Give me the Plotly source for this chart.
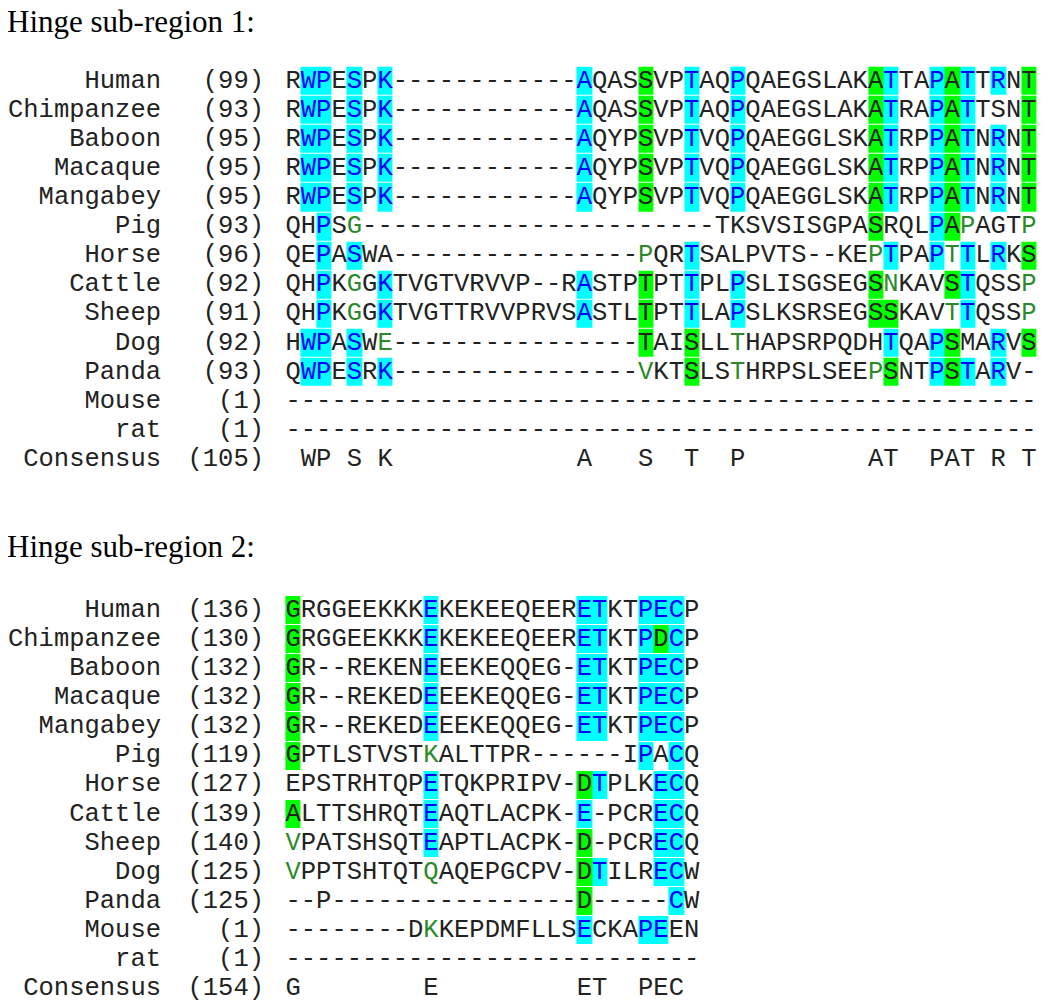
import plotly.graph_objects as go

# ---------------- data ----------------
species = ["Human", "Chimpanzee", "Baboon", "Macaque", "Mangabey", "Pig", "Horse",
           "Cattle", "Sheep", "Dog", "Panda", "Mouse", "rat"]

# Hinge sub-region 1
r1_title = "Hinge sub-region 1:"
r1_start = [99, 93, 95, 95, 95, 93, 96, 92, 91, 92, 93, 1, 1]
r1_cons_start = 105
r1_seq = [
    "RWPESPK" + "-" * 12 + "AQASSVPTAQPQAEGSLAKATTAPATTRNT",
    "RWPESPK" + "-" * 12 + "AQASSVPTAQPQAEGSLAKATRAPATTSNT",
    "RWPESPK" + "-" * 12 + "AQYPSVPTVQPQAEGGLSKATRPPATNRNT",
    "RWPESPK" + "-" * 12 + "AQYPSVPTVQPQAEGGLSKATRPPATNRNT",
    "RWPESPK" + "-" * 12 + "AQYPSVPTVQPQAEGGLSKATRPPATNRNT",
    "QHPSG" + "-" * 23 + "TKSVSISGPASRQLPAPAGTP",
    "QEPASWA" + "-" * 16 + "PQRTSALPVTS--KEPTPAPTTLRKS",
    "QHPKGGKTVGTVRVVP--RASTPTPTTPLPSLISGSEGSNKAVSTQSSP",
    "QHPKGGKTVGTTRVVPRVSASTLTPTTLAPSLKSRSEGSSKAVTTQSSP",
    "HWPASWE" + "-" * 16 + "TAISLLTHAPSRPQDHTQAPSMARVS",
    "QWPESRK" + "-" * 16 + "VKTSLSTHRPSLSEEPSNTPSTARV-",
    "-" * 49,
    "-" * 49,
]
r1_cons = " WP S K            A   S  T  P        AT  PAT R T"
# column indices: identical (cyan), conserved (green box), similar (green letter)
r1_cyan = [
    [1, 2, 4, 6, 19, 26, 29, 39, 42, 44, 46],
    [1, 2, 4, 6, 19, 26, 29, 39, 42, 44],
    [1, 2, 4, 6, 19, 26, 29, 39, 42, 44, 46],
    [1, 2, 4, 6, 19, 26, 29, 39, 42, 44, 46],
    [1, 2, 4, 6, 19, 26, 29, 39, 42, 44, 46],
    [2, 42],
    [2, 4, 26, 39, 42, 44, 46],
    [2, 6, 19, 26, 29, 44],
    [2, 6, 19, 26, 29, 44],
    [1, 2, 4, 39, 42, 46],
    [1, 2, 4, 6, 42, 44, 46],
    [], [],
]
r1_green = [
    [23, 38, 43, 48], [23, 38, 43, 48], [23, 38, 43, 48], [23, 38, 43, 48],
    [23, 38, 43, 48], [38, 43], [48], [23, 38, 43], [23, 38, 39],
    [23, 26, 43, 48], [26, 39, 43], [], [],
]
r1_weak = [
    [], [], [], [], [], [4, 44, 48], [23, 38, 43], [4, 39, 48], [4, 43, 48],
    [6, 29], [23, 29, 38], [], [],
]

# Hinge sub-region 2
r2_title = "Hinge sub-region 2:"
r2_start = [136, 130, 132, 132, 132, 119, 127, 139, 140, 125, 125, 1, 1]
r2_cons_start = 154
r2_seq = [
    "GRGGEEKKKEKEKEEQEERETKTPECP",
    "GRGGEEKKKEKEKEEQEERETKTPDCP",
    "GR--REKENEEEKEQQEG-ETKTPECP",
    "GR--REKEDEEEKEQQEG-ETKTPECP",
    "GR--REKEDEEEKEQQEG-ETKTPECP",
    "GPTLSTVSTKALTTPR------IPACQ",
    "EPSTRHTQPETQKPRIPV-DTPLKECQ",
    "ALTTSHRQTEAQTLACPK-E-PCRECQ",
    "VPATSHSQTEAPTLACPK-D-PCRECQ",
    "VPPTSHTQTQAQEPGCPV-DTILRECW",
    "--P" + "-" * 16 + "D" + "-" * 5 + "CW",
    "--------DKKEPDMFLLSECKAPEEN",
    "-" * 27,
]
r2_cons = "G        E         ET  PEC "
r2_cyan = [
    [9, 19, 20, 23, 24, 25], [9, 19, 20, 23, 25], [9, 19, 20, 23, 24, 25],
    [9, 19, 20, 23, 24, 25], [9, 19, 20, 23, 24, 25], [23, 25], [9, 20, 24, 25],
    [9, 19, 24, 25], [9, 24, 25], [20, 24, 25], [25], [19, 23, 24], [],
]
r2_green = [
    [0], [0, 24], [0], [0], [0], [0], [19], [0], [19], [19], [19], [], [],
]
r2_weak = [
    [], [], [], [], [], [9], [], [], [0], [0, 9], [], [9], [],
]

# ---------------- layout constants ----------------
PAGE_OFF = 8        # default body margin of the html page
W, H = 1050 - PAGE_OFF, 1005 - PAGE_OFF
CW = 15.33          # px per alignment column
X0PX = 285.4 - PAGE_OFF   # px of left edge of first column
NAME_RIGHT_PX = 161 - PAGE_OFF
NUM_RIGHT_PX = 264 - PAGE_OFF
TOP1, PITCH1 = 81.3 - PAGE_OFF, 29.1
TOP2, PITCH2 = 610.5 - PAGE_OFF, 29.1

CYAN = "#00FFFF"
GREEN = "#00FF00"
BLUE = "#0000FF"
WEAK = "#2A8A2A"
INK = "#222222"
MONO = "Courier New, Liberation Mono, monospace"
SERIF = "Times New Roman, Liberation Serif, serif"
FS = 25.5

x_lo = -0.5 - X0PX / CW
x_range = [x_lo, x_lo + W / CW]
name_x = x_lo + NAME_RIGHT_PX / CW
num_x = x_lo + NUM_RIGHT_PX / CW


def y_range(top, pitch):
    y0 = -top / pitch
    return [y0 + H / pitch, y0]


fig = go.Figure()


def add_block(seqs, cons, starts, cons_start, cyan, green, weak, xa, ya):
    n = len(seqs[0])
    rows = seqs + [cons]
    labels = species + ["Consensus"]
    nums = starts + [cons_start]
    z = [[None] * n for _ in rows]
    for r in range(len(seqs)):
        for c in cyan[r]:
            z[r][c] = 1
        for c in green[r]:
            z[r][c] = 2
    fig.add_trace(go.Heatmap(
        z=z, x=list(range(n)), y=list(range(len(rows))), zmin=1, zmax=2,
        colorscale=[[0, CYAN], [0.5, CYAN], [0.5, GREEN], [1, GREEN]],
        showscale=False, ygap=1, hoverinfo="skip", xaxis=xa, yaxis=ya))
    groups = {INK: ([], [], []), BLUE: ([], [], []), WEAK: ([], [], [])}
    for r, s in enumerate(rows):
        for c, ch in enumerate(s):
            if ch == " ":
                continue
            col = INK
            if r < len(seqs):
                if c in cyan[r]:
                    col = BLUE
                elif c in weak[r]:
                    col = WEAK
            g = groups[col]
            g[0].append(c)
            g[1].append(r)
            g[2].append(ch)
    for color, (xs, ys, ts) in groups.items():
        fig.add_trace(go.Scatter(
            x=xs, y=ys, text=ts, mode="text", textposition="middle center",
            textfont=dict(family=MONO, size=FS, color=color),
            hoverinfo="skip", showlegend=False, xaxis=xa, yaxis=ya))
    ys = list(range(len(rows)))
    fig.add_trace(go.Scatter(
        x=[name_x] * len(rows), y=ys, text=labels, mode="text",
        textposition="middle left", textfont=dict(family=MONO, size=FS, color=INK),
        hoverinfo="skip", showlegend=False, xaxis=xa, yaxis=ya))
    fig.add_trace(go.Scatter(
        x=[num_x] * len(rows), y=ys, text=[f"({v})" for v in nums], mode="text",
        textposition="middle left", textfont=dict(family=MONO, size=FS, color=INK),
        hoverinfo="skip", showlegend=False, xaxis=xa, yaxis=ya))


add_block(r1_seq, r1_cons, r1_start, r1_cons_start, r1_cyan, r1_green, r1_weak, "x", "y")
add_block(r2_seq, r2_cons, r2_start, r2_cons_start, r2_cyan, r2_green, r2_weak, "x2", "y2")

axis_common = dict(visible=False, showgrid=False, zeroline=False, fixedrange=True)
fig.update_layout(
    width=W, height=H, margin=dict(l=0, r=0, t=0, b=0),
    paper_bgcolor="white", plot_bgcolor="white", showlegend=False,
    xaxis=dict(range=x_range, domain=[0, 1], anchor="y", **axis_common),
    yaxis=dict(range=y_range(TOP1, PITCH1), domain=[0, 1], anchor="x", **axis_common),
    xaxis2=dict(range=x_range, domain=[0, 1], anchor="y2", overlaying="x", **axis_common),
    yaxis2=dict(range=y_range(TOP2, PITCH2), domain=[0, 1], anchor="x2", overlaying="y", **axis_common),
    annotations=[
        dict(text=r1_title, xref="paper", yref="paper", x=-3 / W, y=1 - 13 / H,
             xanchor="left", yanchor="middle", showarrow=False,
             font=dict(family=SERIF, size=31, color="black")),
        dict(text=r2_title, xref="paper", yref="paper", x=-3 / W, y=1 - 538 / H,
             xanchor="left", yanchor="middle", showarrow=False,
             font=dict(family=SERIF, size=31, color="black")),
    ],
)

fig.write_html("out.html")
